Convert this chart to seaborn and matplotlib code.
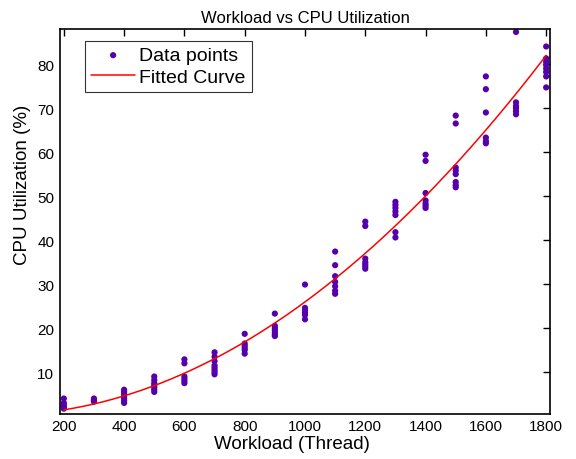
import numpy as np
import pandas as pd
import matplotlib
matplotlib.use("Agg")
import matplotlib.pyplot as plt
import seaborn as sns

# workload levels and the cpu readings measured at each one
workloads = [200, 300, 400, 500, 600, 700, 800, 900, 1000,
             1100, 1200, 1300, 1400, 1500, 1600, 1700, 1800]
cpu_readings = [
    [4.0, 3.0, 2.5, 2.2, 1.9, 1.7],
    [4.0, 3.7, 3.5, 3.3],
    [6.0, 5.5, 5.0, 4.5, 4.0, 3.5, 3.0],
    [9.0, 8.2, 7.5, 7.0, 6.5, 6.0, 5.5],
    [12.9, 12.0, 9.0, 8.5, 8.0, 7.5],
    [14.5, 13.5, 12.5, 11.5, 11.0, 10.5, 10.0, 9.5],
    [18.7, 16.5, 16.0, 15.5, 15.0, 14.2],
    [23.3, 20.5, 20.0, 19.5, 19.0, 18.5, 18.2],
    [29.9, 24.6, 24.0, 23.5, 23.0, 22.0],
    [37.4, 34.3, 31.8, 30.5, 29.5, 28.5, 27.8],
    [44.2, 43.2, 35.8, 35.0, 34.5, 34.0, 33.5],
    [48.7, 48.0, 47.3, 46.5, 45.7, 41.8, 40.6],
    [59.4, 58.0, 50.7, 49.0, 48.3, 47.8, 47.3],
    [68.3, 66.5, 56.5, 55.8, 55.0, 53.2, 52.5, 52.0],
    [77.2, 74.3, 69.0, 63.3, 62.5, 62.0],
    [87.3, 71.3, 70.5, 70.0, 69.3, 68.6],
    [84.0, 81.3, 80.5, 79.8, 79.0, 78.2, 77.2, 74.7],
]

rows = [(w, c) for w, vals in zip(workloads, cpu_readings) for c in vals]
df = pd.DataFrame(rows, columns=["Workload", "CPU"])

# quadratic fit of the points
coef = np.polyfit(df["Workload"], df["CPU"], 2)
x_fit = np.linspace(min(workloads), max(workloads), 200)
fit_df = pd.DataFrame({"Workload": x_fit, "CPU": np.polyval(coef, x_fit)})

sns.set_style("white")
plt.rcParams["font.family"] = ["Liberation Sans", "DejaVu Sans"]
plt.rcParams["text.color"] = "black"
plt.rcParams["axes.labelcolor"] = "black"
plt.rcParams["xtick.color"] = "black"
plt.rcParams["ytick.color"] = "black"

fig = plt.figure(figsize=(5.76, 4.6), dpi=100)
ax = fig.add_axes([0.104, 0.098, 0.851, 0.837])

sns.scatterplot(data=df, x="Workload", y="CPU", ax=ax, color="#5500aa",
                s=20, edgecolor="none", label="Data points")
sns.lineplot(data=fit_df, x="Workload", y="CPU", ax=ax, color="red",
             linewidth=1.1, label="Fitted Curve")

ax.set_xlim(187, 1813)
ax.set_ylim(0.5, 88)
ax.set_xticks(range(200, 1801, 200))
ax.set_yticks(range(10, 81, 10))
ax.tick_params(direction="in", top=True, right=True, length=5, width=1,
               labelsize=11, color="black", pad=4)
for sp in ax.spines.values():
    sp.set_color("black")
    sp.set_linewidth(1.2)

ax.set_title("Workload vs CPU Utilization", fontsize=12, pad=5)
ax.set_xlabel("Workload (Thread)", fontsize=13.5, labelpad=2)
ax.set_ylabel("CPU Utilization (%)", fontsize=13.5, labelpad=6)
ax.xaxis.set_label_coords(0.473, -0.055)
ax.yaxis.set_label_coords(-0.058, 0.597)

leg = ax.legend(loc="upper left", bbox_to_anchor=(0.051, 0.969),
                borderaxespad=0, fontsize=14, fancybox=False, frameon=True,
                handlelength=2.3, borderpad=0.3, labelspacing=0.22,
                handletextpad=0.2)
leg.get_frame().set_edgecolor("black")
leg.get_frame().set_linewidth(0.8)

fig.savefig("out.png", dpi=100)
